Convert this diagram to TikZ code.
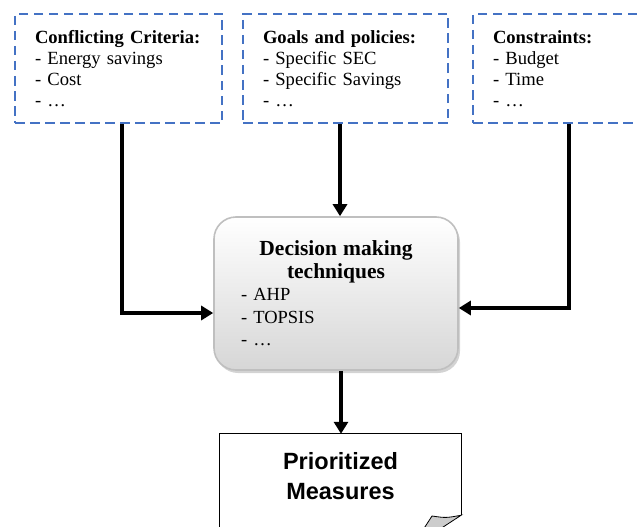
\documentclass[tikz,border=0pt]{standalone}
\usepackage{fontspec}
\setmainfont{Liberation Serif}
\newfontfamily\arialfont{Liberation Sans}
\usetikzlibrary{positioning, shapes, arrows.meta, shadows}
\definecolor{dashblue}{RGB}{68,114,196}

\begin{document}
\begin{tikzpicture}[x=1pt, y=-1pt,
  inbox/.style={draw=dashblue, line width=2pt, dash pattern=on 9.5pt off 5.5pt, minimum height=109pt, inner xsep=20pt, align=left, font=\fontsize{18.6}{21}\selectfont},
  dmtbox/.style={draw=gray!50, line width=1.6pt, rounded corners=22pt, top color=white, bottom color=gray!32, minimum width=244pt, minimum height=153pt, text width=190pt, align=left, inner sep=0pt, font=\fontsize{18.5}{22.5}\selectfont, drop shadow={shadow xshift=2pt, shadow yshift=-3pt, opacity=.35}},
  flow/.style={line width=3.2pt, -{Triangle[length=12pt,width=14pt]}}]
\useasboundingbox (0,0) rectangle (637,527);
\clip (0,0) rectangle (637,527);
\node[inbox, minimum width=207pt, text width=167pt] (crit) at (118.5,68.5) {\textbf{Conflicting~Criteria:}\\- Energy savings\\- Cost\\- \ldots};
\node[inbox, minimum width=205pt, text width=165pt] (goals) at (345.5,68.5) {\textbf{Goals~and~policies:}\\- Specific SEC\\- Specific Savings\\- \ldots};
\node[inbox, minimum width=200pt, text width=160pt] (cons) at (573,68.5) {\textbf{Constraints:}\\- Budget\\- Time\\- \ldots};
\node[dmtbox] (dmt) at (336,293.5) {\makebox[190pt]{\fontsize{21.5}{22}\selectfont\bfseries Decision making}\\\makebox[190pt]{\fontsize{21.5}{22}\selectfont\bfseries techniques}\\- AHP\\- TOPSIS\\- \ldots};
\node[minimum width=241pt, minimum height=84pt, align=center, font=\arialfont\bfseries\fontsize{23.5}{30}\selectfont] (prio) at (340.5,476) {Prioritized\\Measures};
%document outline
\draw[line width=0.8pt] ([yshift=-20pt]prio.south west) -- (prio.north west) -- (prio.north east) -- ([yshift=3pt]prio.south east);
\draw[line width=0.8pt, fill=gray!40] ([yshift=3pt]prio.south east) .. controls (446,518) .. (432,516) -- (421,533) -- (437,531) -- cycle;
\draw[flow] ([xshift=3.5pt]crit.south) |- ([yshift=-19.5pt]dmt.west);
\draw[flow] ([xshift=-5.5pt]goals.south) -- ([xshift=4pt]dmt.north);
\draw[flow] ([xshift=-4pt]cons.south) |- ([yshift=-14.5pt]dmt.east);
\draw[flow] ([xshift=5pt]dmt.south) -- ([xshift=0.5pt]prio.north);
\end{tikzpicture}
\end{document}
